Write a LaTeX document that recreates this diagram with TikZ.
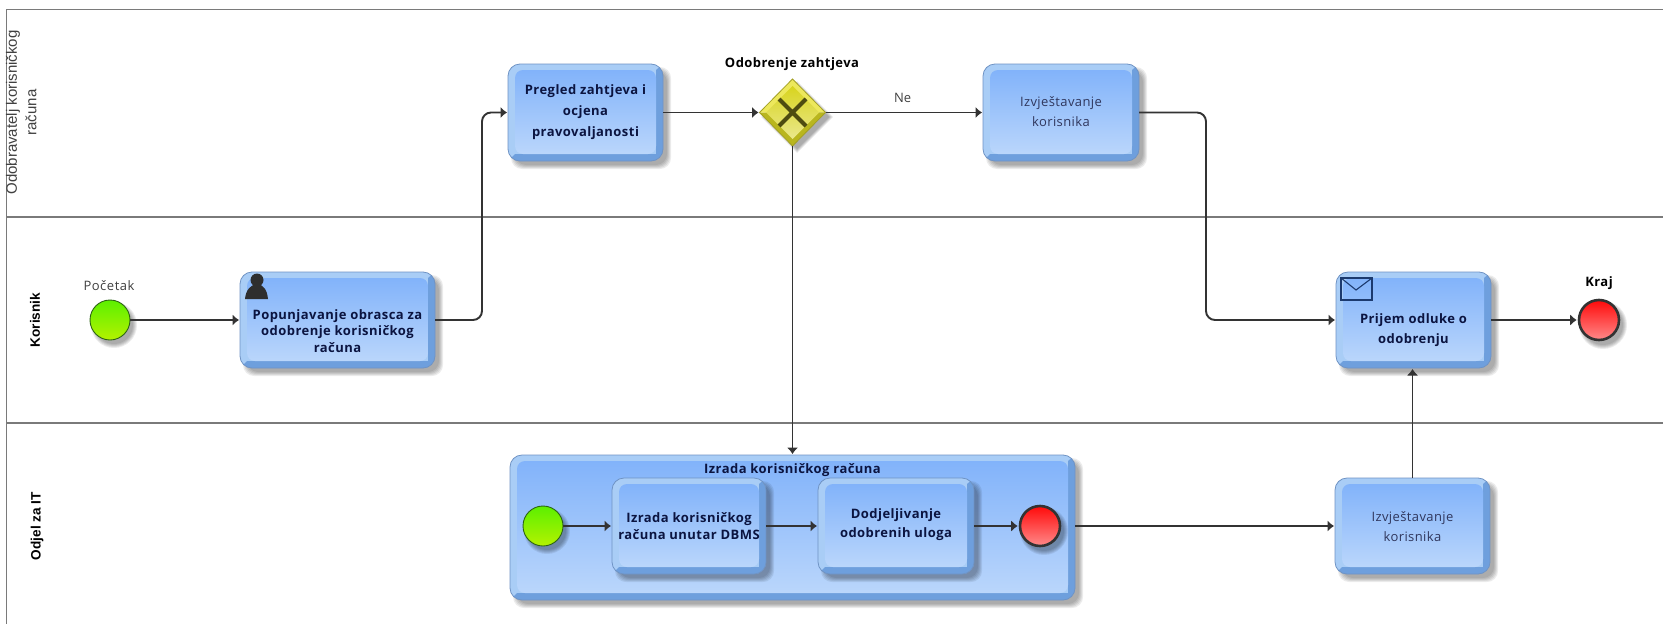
\documentclass[tikz,border=0pt]{standalone}
\usepackage{fontspec}
\setmainfont{Open Sans}
\newfontfamily\lanefont{Liberation Sans}
\usetikzlibrary{arrows.meta,shapes.geometric,calc}
\definecolor{linecol}{HTML}{333333}
\definecolor{lanecol}{HTML}{7A7A7A}
\definecolor{bevlight}{HTML}{A9CDF6}
\definecolor{bevdark}{HTML}{6E9FDD}
\definecolor{boxtop}{HTML}{82B3FA}
\definecolor{boxbot}{HTML}{BAD6FB}
\definecolor{boxedge}{HTML}{6F93C4}
\definecolor{navy}{HTML}{0B1440}
\definecolor{greentop}{HTML}{5CF000}
\definecolor{greenbot}{HTML}{B4F200}
\definecolor{greenedge}{HTML}{2C6414}
\definecolor{redtop}{HTML}{FF0A0A}
\definecolor{redbot}{HTML}{FF8A8A}
\definecolor{gwlight}{HTML}{EDE85C}
\definecolor{gwdark}{HTML}{B9B61E}
\definecolor{gwtop}{HTML}{D8D41E}
\definecolor{gwbot}{HTML}{EAE88C}
\definecolor{gwedge}{HTML}{A3A024}
\definecolor{gwx}{HTML}{4E4C10}
\definecolor{envcol}{HTML}{1C3A6E}
\tikzset{
  lane/.style={draw=lanecol,line width=1.1pt},
  flow/.style={draw=linecol,line width=1.9pt,rounded corners=9pt,-{Latex[length=6.5pt,width=11.5pt]},shorten >=1pt},
  boldtxt/.style={font=\fontsize{13}{16.8}\selectfont\bfseries\addfontfeatures{LetterSpace=3.5},text=navy,align=center,inner sep=0pt},
  regtxt/.style={font=\addfontfeatures{LetterSpace=3}\fontsize{13}{20}\selectfont,text=navy!85!white,align=center,inner sep=0pt},
  evlabel/.style={font=\fontsize{13}{16}\selectfont,text=black!75,inner sep=0pt},
  evbold/.style={font=\fontsize{13}{16}\selectfont\bfseries\addfontfeatures{LetterSpace=3.5},text=black,inner sep=0pt},
  lanebold/.style={font=\lanefont\fontsize{13.6}{16}\selectfont\bfseries,text=black,rotate=90,inner sep=0pt,align=center},
  lanereg/.style={font=\lanefont\fontsize{15}{18}\selectfont,text=black!75,rotate=90,inner sep=0pt,align=center},
  startev/.style={circle,inner sep=0pt,minimum size=40pt,draw=greenedge,line width=.9pt,top color=greentop,bottom color=greenbot},
  endev/.style={circle,inner sep=0pt,minimum size=40pt,draw=linecol,line width=2.6pt,top color=redtop,bottom color=redbot},
  blankbox/.style={rectangle,inner sep=0pt,outer sep=0pt},
}
\newcommand{\softrect}[4]{%
  \foreach \e in {3,2,1,0,-1}{%
    \fill[black,opacity=.075,rounded corners=11pt] (#1+6-\e,#2+6-\e) rectangle (#3+5+\e,#4+5+\e);}%
}
% name x1 y1 x2 y2 texty textstyle text
\newcommand{\bpmnbox}[8]{%
  \softrect{#2}{#3}{#4}{#5}
  \begin{scope}
    \clip[rounded corners=12pt] (#2,#3) rectangle (#4,#5);
    \fill[bevlight] (#2,#3) rectangle (#4,#5);
    \fill[bevdark] (#2,#5) -- (#2+7,#5-7) -- (#4-7,#5-7) -- (#4-7,#3+6) -- (#4,#3) -- (#4,#5) -- cycle;
  \end{scope}
  \shade[top color=boxtop,bottom color=boxbot,rounded corners=8pt] (#2+7,#3+6) rectangle (#4-7,#5-7);
  \draw[boxedge,line width=.8pt,rounded corners=12pt] (#2,#3) rectangle (#4,#5);
  \path (#2,#3) -- node[blankbox,minimum width=#4pt-#2pt,minimum height=#5pt-#3pt] (#1) {} (#4,#5);
  \path ($(#2,#6)!.5!(#4,#6)$) node[#7] (#1-text) {#8};
}
\newcommand{\softcirc}[3]{%
  \foreach \e in {3,2,1,0,-1}{%
    \fill[black,opacity=.075] (#1+4,#2+5) circle ({#3+\e});}%
}
\begin{document}
\begin{tikzpicture}[x=1pt,y=-1pt]
\useasboundingbox (0,0) rectangle (1663,624);
\fill[white] (0,0) rectangle (1663,624);
% lanes
\coordinate (tl) at (6.5,9.5);
\coordinate (tr) at (1663,9.5);
\coordinate (m1l) at (6.5,217);
\coordinate (m1r) at (1663,217);
\coordinate (m2l) at (6.5,423);
\coordinate (m2r) at (1663,423);
\coordinate (bl) at (6.5,624);
\draw[lane] (tr) -- (tl) -- (bl);
\draw[lane] (m1l) -- (m1r);
\draw[lane] (m2l) -- (m2r);
\node[lanereg] (lane1a) at (13,112.5) {Odobravatelj korisničkog};
\node[lanereg] (lane1b) at (31,112.5) {računa};
\node[lanebold] (lane2) at (35,320) {Korisnik};
\node[lanebold] (lane3) at (37,526) {Odjel za IT};

% tasks
\bpmnbox{popun}{240}{272}{435}{368}{331}{boldtxt}{Popunjavanje obrasca za\\odobrenje korisničkog\\računa}
\bpmnbox{pregled}{508}{64}{663}{161}{112}{boldtxt}{Pregled zahtjeva i\\[4pt]ocjena\\[4pt]pravovaljanosti}
\bpmnbox{izv1}{983}{64}{1139}{161}{112}{regtxt}{Izvještavanje\\korisnika}
\bpmnbox{prijem}{1336}{272}{1491}{368}{330}{boldtxt}{Prijem odluke o\\[3pt]odobrenju}
\bpmnbox{izv2}{1335}{478}{1490}{574}{527}{regtxt}{Izvještavanje\\korisnika}
\bpmnbox{sub}{510}{455}{1075}{600}{470}{boldtxt}{Izrada korisničkog računa}
\bpmnbox{izr}{612}{478}{766}{574}{526}{boldtxt}{Izrada korisničkog\\računa unutar DBMS}
\bpmnbox{dod}{818}{478}{974}{574}{525}{boldtxt}{Dodjeljivanje\\[2pt]odobrenih uloga}

% person icon
\fill[black!82] (257,280) circle (6.5);
\fill[black!82] (245,299) .. controls (246,290) and (250,285) .. (257,284) .. controls (264,285) and (267,290) .. (268,299) -- cycle;
% envelope icon
\draw[draw=envcol,line width=1.4pt] (1341,278) rectangle (1372,300);
\draw[draw=envcol,line width=1.1pt] (1341,278) -- (1356,290) -- (1372,278);

% events
\softcirc{110}{320}{20}
\node[startev] (start) at (110,320) {};
\node[evlabel] (startl) at (109,286) {\addfontfeatures{LetterSpace=4}Početak};
\softcirc{1599}{320}{21}
\node[endev] (kraj) at (1599,320) {};
\node[evbold] (krajl) at (1599,283) {Kraj};
\softcirc{543}{526}{20}
\node[startev] (substart) at (543,526) {};
\softcirc{1040}{526}{21}
\node[endev] (subend) at (1040,526) {};

% gateway
\foreach \e in {3,2,1,0,-1}{\fill[black,opacity=.075] (797,84-\e) -- (830+\e,117) -- (797,150+\e) -- (764-\e,117) -- cycle;}
\node[diamond,inner sep=0pt,outer sep=0pt,minimum width=66pt,minimum height=67pt] (gw) at (792.5,112.5) {};
\fill[gwlight] (792.5,79) -- (825.5,112.5) -- (759.5,112.5) -- cycle;
\fill[gwdark] (792.5,146) -- (825.5,112.5) -- (759.5,112.5) -- cycle;
\shade[top color=gwtop,bottom color=gwbot] (792.5,86) -- (819,112.5) -- (792.5,139) -- (766,112.5) -- cycle;
\draw[gwedge,line width=.8pt] (792.5,79) -- (825.5,112.5) -- (792.5,146) -- (759.5,112.5) -- cycle;
\draw[gwx,line width=4pt] (779,99) -- (806,126) (806,99) -- (779,126);
\node[evbold] (gwl) at (792,64) {Odobrenje zahtjeva};

% connectors
\draw[flow] (start) -- (popun);
\coordinate (c1) at (482,216);
\draw[flow] (popun) -| (c1) |- (pregled);
\draw[flow] (pregled) -- (gw);
\draw[flow] (gw) -- (izv1) node[evlabel,pos=.49,above=9pt] (ne) {Ne};
\coordinate (c2) at (1206,216);
\draw[flow] (izv1) -| (c2) |- (prijem);
\draw[flow] (prijem) -- (kraj);
\draw[flow] (gw) -- (gw |- sub.north);
\draw[flow] (izv2.north) -- (izv2.north |- prijem.south);
\draw[flow] (substart) -- (izr);
\draw[flow] (izr) -- (dod);
\draw[flow] (dod) -- (subend);
\draw[flow] (sub.east |- izv2.west) -- (izv2.west);
\end{tikzpicture}
\end{document}
